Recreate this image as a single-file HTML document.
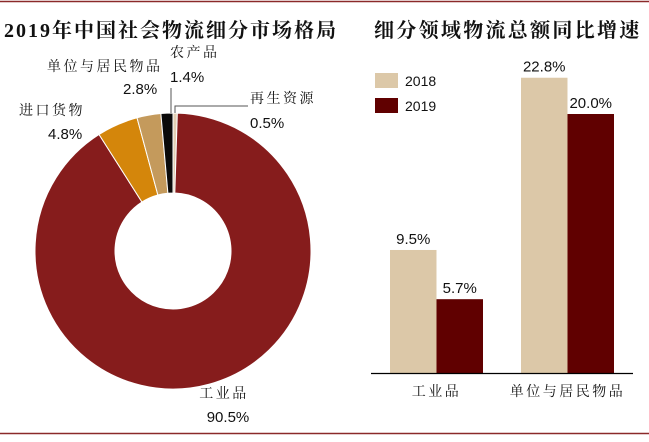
<!DOCTYPE html>
<html><head><meta charset="utf-8"><style>
body{margin:0;width:649px;height:437px;background:#fff;overflow:hidden;font-family:"Liberation Sans","Noto Sans CJK SC",sans-serif}
</style></head><body>
<svg id="c" width="649" height="437" xmlns="http://www.w3.org/2000/svg">
<line x1="0" y1="1.5" x2="649" y2="1.5" stroke="#8b2a2a" stroke-width="1.5"/>
<line x1="0" y1="433.5" x2="649" y2="433.5" stroke="#8b2a2a" stroke-width="1.5"/>
<text x="4" y="37" font-size="20" letter-spacing="2" font-family="'Liberation Serif','Noto Serif CJK SC',serif" font-weight="bold" fill="#111">2019年中国社会物流细分市场格局</text>
<text x="374" y="37" font-size="20" letter-spacing="2.3" font-family="'Liberation Serif','Noto Serif CJK SC',serif" font-weight="bold" fill="#111">细分领域物流总额同比增速</text>
<g id="donut"></g>
<g id="bars"></g>
</svg>
<script>
const sliceNames=['再生资源','工业品','进口货物','单位与居民物品','农产品'];
const sliceValues=[0.5,90.5,4.8,2.8,1.4];
const sliceColors=['#e2cfb4','#861c1c','#d4860b','#c49a5c','#0a0a0a'];
const barCats=['工业品','单位与居民物品'];
const vals2018=[9.5,22.8];
const vals2019=[5.7,20.0];
const NS='http://www.w3.org/2000/svg';
function mk(t,a,p){const e=document.createElementNS(NS,t);for(const k in a)e.setAttribute(k,a[k]);p.appendChild(e);return e;}
const dg=document.getElementById('donut');
const cx=173,cy=251,R=138,r=58;
let tot=sliceValues.reduce((a,b)=>a+b,0),acc=0;
function pt(rad,f){const a=f*2*Math.PI-Math.PI/2;return [cx+rad*Math.cos(a),cy+rad*Math.sin(a)];}
sliceValues.forEach((v,i)=>{
 const f0=acc/tot,f1=(acc+v)/tot;acc+=v;
 const lg=(f1-f0)>0.5?1:0;
 const [x0,y0]=pt(R,f0),[x1,y1]=pt(R,f1),[x2,y2]=pt(r,f1),[x3,y3]=pt(r,f0);
 const p=mk('path',{d:`M${x0},${y0}A${R},${R} 0 ${lg} 1 ${x1},${y1}L${x2},${y2}A${r},${r} 0 ${lg} 0 ${x3},${y3}Z`,fill:sliceColors[i],stroke:'#fff','stroke-width':1},dg);
 
 
});
const labels=[
 {x:250,y:103,vx:250,vy:128,a:'start'},
 {x:224,y:398,vx:228,vy:422,a:'middle'},
 {x:19,y:115,vx:48,vy:139,a:'start'},
 {x:47,y:71,vx:123,vy:94,a:'start'},
 {x:170,y:57,vx:170,vy:82,a:'start'}];
labels.forEach((l,i)=>{
 const t=mk('text',{x:l.x,y:l.y,'font-size':14,'letter-spacing':2.5,'text-anchor':l.a,fill:'#111','font-family':"'Liberation Serif','Noto Serif CJK SC',serif"},dg);t.textContent=sliceNames[i];
 
 
 const u=mk('text',{x:l.vx,y:l.vy,'font-size':15,'text-anchor':l.a,fill:'#111'},dg);u.textContent=sliceValues[i].toFixed(1)+'%';
 
 
});
mk('polyline',{points:'171,88 171,113',stroke:'#555',fill:'none'},dg);
mk('polyline',{points:'175,113 175,106 248,106',stroke:'#555',fill:'none'},dg);
const bg=document.getElementById('bars');
const base=373,scale=12.95;
const y=v=>base-v*scale;
const groupX=[390,521],bw=46.5;
barCats.forEach((c,i)=>{
 [[vals2018,'#dcc8a8',0],[vals2019,'#600000',1]].forEach(([arr,col,k])=>{
  const x=groupX[i]+k*bw,v=arr[i];
  const b=mk('rect',{x:x,y:y(v),width:bw,height:base-y(v),fill:col},bg);
  
  
  const t=mk('text',{x:x+bw/2,y:y(v)-6,'font-size':15,'text-anchor':'middle',fill:'#111'},bg);t.textContent=v.toFixed(1)+'%';
  
  
 });
 const ct=mk('text',{x:groupX[i]+bw,y:396,'font-size':14,'letter-spacing':2.5,'text-anchor':'middle',fill:'#111','font-family':"'Liberation Serif','Noto Serif CJK SC',serif"},bg);ct.textContent=c;
 
 
});
const ax=mk('line',{x1:371,y1:base+0.5,x2:633,y2:base+0.5,stroke:'#000','stroke-width':1.2},bg);


[['2018','#dcc8a8',73],['2019','#600000',98]].forEach(([n,c,yy])=>{
 const s=mk('rect',{x:375,y:yy,width:23,height:15,fill:c},bg);
 
 
 const t=mk('text',{x:405,y:yy+13,'font-size':14,fill:'#111'},bg);t.textContent=n;
 
 
});
</script>
</body></html>
